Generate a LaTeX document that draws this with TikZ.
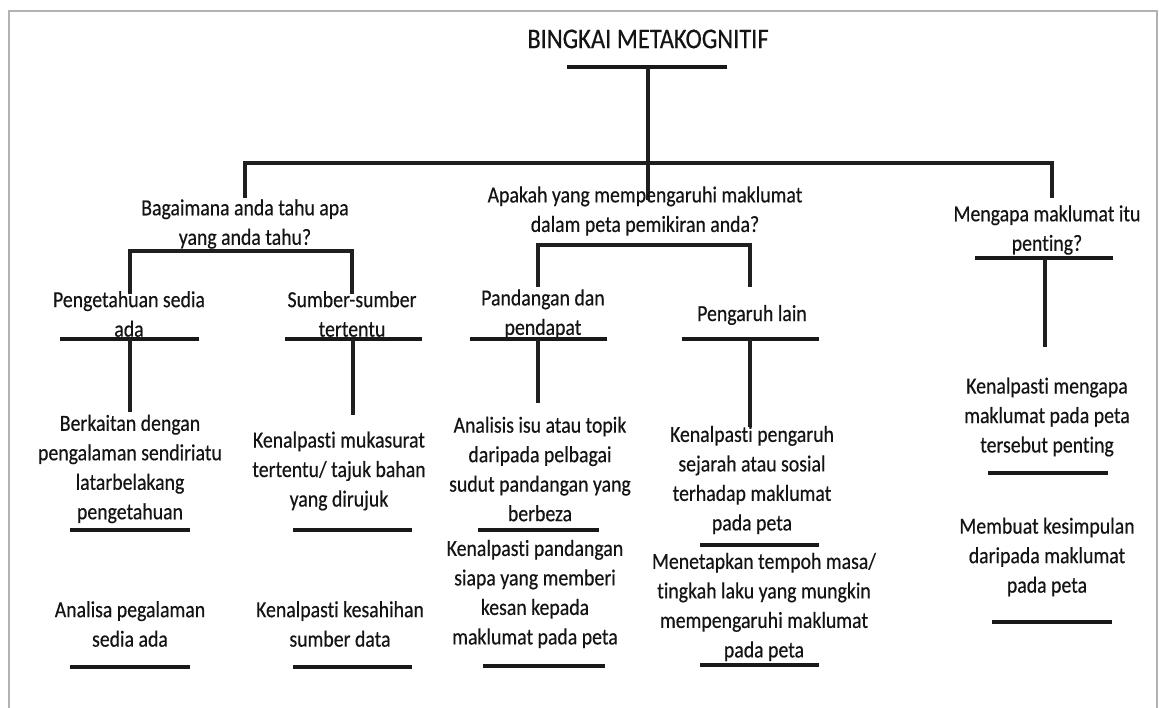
\documentclass[tikz,border=0pt]{standalone}
\usepackage{fontspec}
\setmainfont{Carlito}[FakeStretch=0.86, FakeBold=0.4, Ligatures={NoCommon}]
\begin{document}
\begin{tikzpicture}[x=1pt,y=-1pt,
  txt/.style={align=center, inner sep=0pt, text=black!92,
    font=\fontsize{23}{29.5}\selectfont},
  ttl/.style={inner sep=0pt, text=black!92, font=\fontsize{28.5}{32}\selectfont},
  bar/.style={line width=4.2pt, black!90},
  link/.style={line width=3.2pt, black!88}]
\useasboundingbox (0,0) rectangle (1159,708);
% page frame
\draw[gray!60, line width=2pt] (9,712) -- (9,11) -- (1157,11) -- (1157,712);

% title and main branching
\node[ttl] (title) at (648,39) {BINGKAI METAKOGNITIF};
\coordinate (tl) at (567,67); \coordinate (tr) at (727,67);
\draw[bar] (tl) -- (tr);
\coordinate (tm) at (648,67);
\coordinate (hl) at (245,163); \coordinate (hm) at (648,163); \coordinate (hr) at (1052,163);
\coordinate (hl2) at (245,198); \coordinate (hm2) at (648,200); \coordinate (hr2) at (1052,198);
\draw[link] (tm) -- (hm2);
\draw[link] (hl2) -- (hl) -- (hr) -- (hr2);

% first level questions
\node[txt] (q1) at (245,224) {Bagaimana anda tahu apa\\yang anda tahu?};
\node[txt] (q2) at (645,211) {Apakah yang mempengaruhi maklumat\\dalam peta pemikiran anda?};
\node[txt] (q3) at (1047,230) {Mengapa maklumat itu\\penting?};

% bracket below q1
\coordinate (q1a) at (130,294); \coordinate (q1b) at (130,251);
\coordinate (q1c) at (352,251); \coordinate (q1d) at (352,294);
\draw[link] (q1a) -- (q1b) -- (q1c) -- (q1d);
% bracket below q2
\coordinate (q2a) at (538,287); \coordinate (q2b) at (538,245);
\coordinate (q2c) at (750,245); \coordinate (q2d) at (750,287);
\draw[link] (q2a) -- (q2b) -- (q2c) -- (q2d);
% bar and stem below q3
\coordinate (q3l) at (975,258); \coordinate (q3r) at (1113,258);
\draw[bar] (q3l) -- (q3r);
\coordinate (q3m) at (1045,258); \coordinate (q3e) at (1045,347);
\draw[link] (q3m) -- (q3e);

% second level
\node[txt] (a1) at (129,314) {Pengetahuan sedia\\ada};
\node[txt] (a2) at (352,314) {Sumber-sumber\\tertentu};
\node[txt] (b1) at (543,314) {Pandangan dan\\pendapat};
\node[txt] (b2) at (752,315) {Pengaruh lain};

\coordinate (a1l) at (60,339); \coordinate (a1r) at (199,339);
\coordinate (a2l) at (285,339); \coordinate (a2r) at (422,339);
\coordinate (b1l) at (470,339); \coordinate (b1r) at (607,339);
\coordinate (b2l) at (682,339); \coordinate (b2r) at (819,339);
\draw[bar] (a1l) -- (a1r);
\draw[bar] (a2l) -- (a2r);
\draw[bar] (b1l) -- (b1r);
\draw[bar] (b2l) -- (b2r);

\coordinate (a1m) at (130,339); \coordinate (a1e) at (130,412);
\coordinate (a2m) at (353,339); \coordinate (a2e) at (353,415);
\coordinate (b1m) at (538,339); \coordinate (b1e) at (538,403);
\coordinate (b2m) at (750,339); \coordinate (b2e) at (750,427);
\draw[link] (a1m) -- (a1e);
\draw[link] (a2m) -- (a2e);
\draw[link] (b1m) -- (b1e);
\draw[link] (b2m) -- (b2e);

% third level
\node[txt] (c1) at (130,469) {Berkaitan dengan\\pengalaman sendiriatu\\latarbelakang\\pengetahuan};
\node[txt] (c2) at (130,624) {Analisa pegalaman\\sedia ada};
\node[txt] (d1) at (339,471) {Kenalpasti mukasurat\\tertentu/ tajuk bahan\\yang dirujuk};
\node[txt] (d2) at (340,624) {Kenalpasti kesahihan\\sumber data};
\node[txt] (e1) at (540,469) {Analisis isu atau topik\\daripada pelbagai\\sudut pandangan yang\\berbeza};
\node[txt] (e2) at (535,594) {Kenalpasti pandangan\\siapa yang memberi\\kesan kepada\\maklumat pada peta};
\node[txt] (f1) at (752,480) {Kenalpasti pengaruh\\sejarah atau sosial\\terhadap maklumat\\pada peta};
\node[txt] (f2) at (764,607) {Menetapkan tempoh masa/\\tingkah laku yang mungkin\\mempengaruhi maklumat\\pada peta};
\node[txt] (g1) at (1047,417) {Kenalpasti mengapa\\maklumat pada peta\\tersebut penting};
\node[txt] (g2) at (1047,557) {Membuat kesimpulan\\daripada maklumat\\pada peta};

% underlines of the third level
\coordinate (c1l) at (70,530); \coordinate (c1r) at (190,530);
\coordinate (c2l) at (70,667); \coordinate (c2r) at (190,667);
\coordinate (d1l) at (293,530); \coordinate (d1r) at (412,530);
\coordinate (d2l) at (293,667); \coordinate (d2r) at (412,667);
\coordinate (e1l) at (478,530); \coordinate (e1r) at (599,530);
\coordinate (e2l) at (483,666); \coordinate (e2r) at (605,666);
\coordinate (f1l) at (700,545); \coordinate (f1r) at (819,545);
\coordinate (f2l) at (700,665); \coordinate (f2r) at (819,665);
\coordinate (g1l) at (988,473); \coordinate (g1r) at (1108,473);
\coordinate (g2l) at (992,622); \coordinate (g2r) at (1112,622);
\foreach \n in {c1,c2,d1,d2,e1,e2,f1,f2,g1,g2}
  \draw[bar] (\n l) -- (\n r);
\end{tikzpicture}
\end{document}
